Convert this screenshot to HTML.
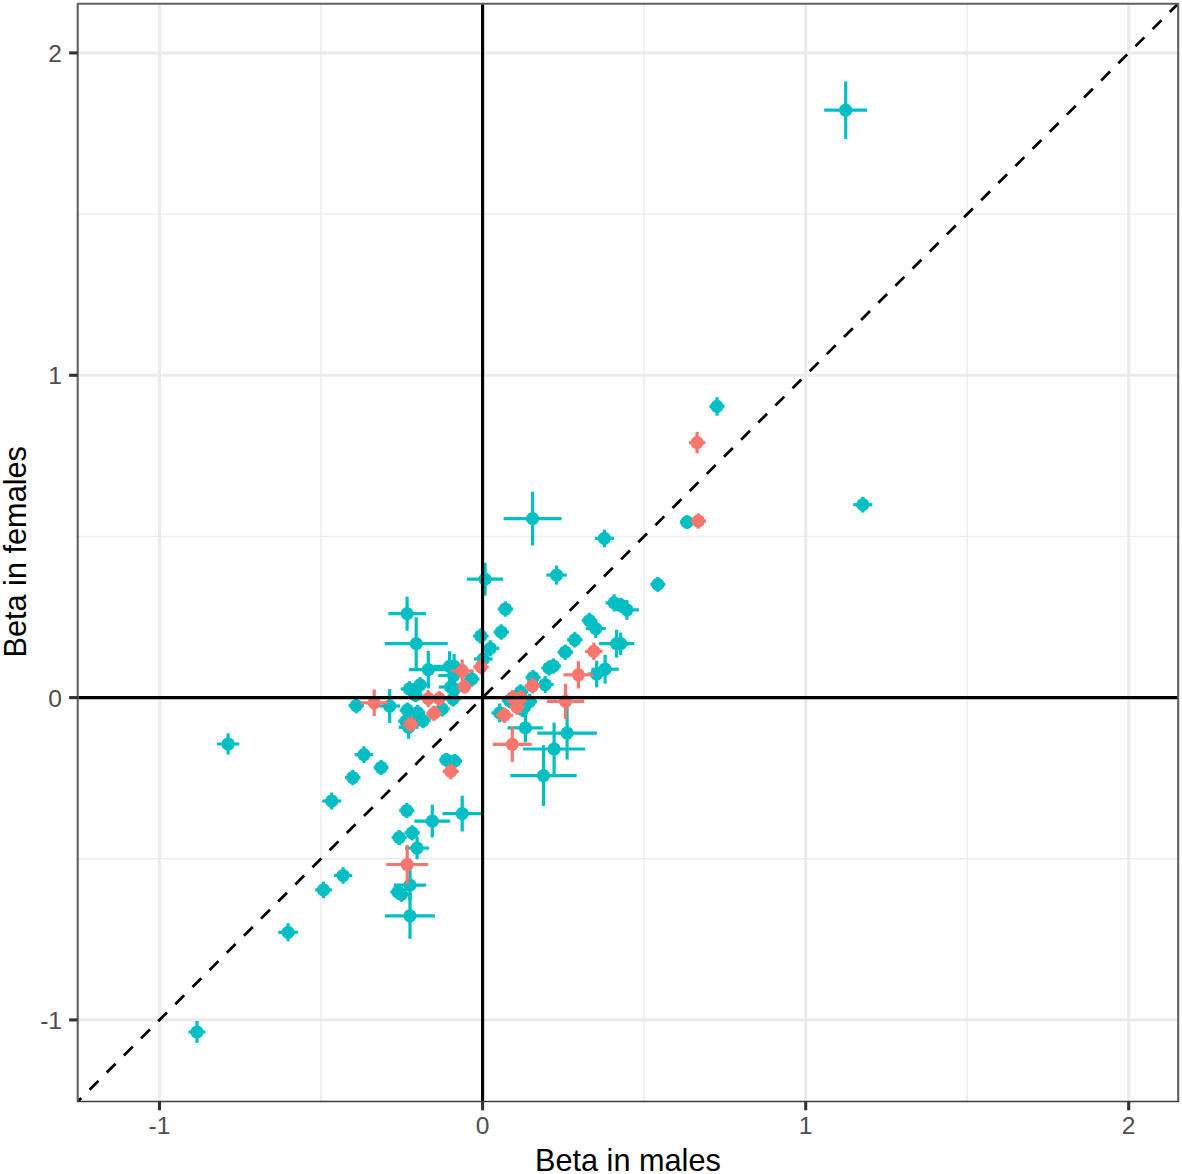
<!DOCTYPE html>
<html><head><meta charset="utf-8"><title>Beta in males vs Beta in females</title>
<style>
html,body{margin:0;padding:0;background:#fff}
svg{display:block}
text{font-family:"Liberation Sans",sans-serif}
</style></head><body>
<svg width="1182" height="1174" viewBox="0 0 1182 1174">
<rect width="1182" height="1174" fill="#fff"/>
<defs><clipPath id="pc"><rect x="77.7" y="3.8" width="1100.5" height="1097.7"/></clipPath></defs>

<g stroke="#EBEBEB" fill="none" clip-path="url(#pc)">
<line x1="321.0" y1="3.75" x2="321.0" y2="1101.47" stroke-width="1.4"/>
<line x1="77.72" y1="858.8" x2="1178.18" y2="858.8" stroke-width="1.4"/>
<line x1="644.1" y1="3.75" x2="644.1" y2="1101.47" stroke-width="1.4"/>
<line x1="77.72" y1="536.4" x2="1178.18" y2="536.4" stroke-width="1.4"/>
<line x1="967.2" y1="3.75" x2="967.2" y2="1101.47" stroke-width="1.4"/>
<line x1="77.72" y1="214.1" x2="1178.18" y2="214.1" stroke-width="1.4"/>
<line x1="159.5" y1="3.75" x2="159.5" y2="1101.47" stroke-width="3.1"/>
<line x1="77.72" y1="1019.9" x2="1178.18" y2="1019.9" stroke-width="3.1"/>
<line x1="482.6" y1="3.75" x2="482.6" y2="1101.47" stroke-width="3.1"/>
<line x1="77.72" y1="697.6" x2="1178.18" y2="697.6" stroke-width="3.1"/>
<line x1="805.7" y1="3.75" x2="805.7" y2="1101.47" stroke-width="3.1"/>
<line x1="77.72" y1="375.3" x2="1178.18" y2="375.3" stroke-width="3.1"/>
<line x1="1128.7" y1="3.75" x2="1128.7" y2="1101.47" stroke-width="3.1"/>
<line x1="77.72" y1="52.9" x2="1178.18" y2="52.9" stroke-width="3.1"/>
</g>
<g clip-path="url(#pc)" stroke-width="3.2">
<g stroke="#00BFC4" fill="#00BFC4">
<line x1="824.2" y1="110.2" x2="867.2" y2="110.2"/><line x1="845.7" y1="81.5" x2="845.7" y2="138.9"/><circle cx="845.7" cy="110.2" r="6.6" stroke="none"/>
<line x1="216.9" y1="744.0" x2="239.3" y2="744.0"/><line x1="228.1" y1="733.5" x2="228.1" y2="754.5"/><circle cx="228.1" cy="744.0" r="6.6" stroke="none"/>
<line x1="322.2" y1="801.0" x2="341.2" y2="801.0"/><line x1="331.7" y1="792.5" x2="331.7" y2="809.5"/><circle cx="331.7" cy="801.0" r="6.6" stroke="none"/>
<line x1="345.1" y1="777.5" x2="360.5" y2="777.5"/><line x1="352.8" y1="769.8" x2="352.8" y2="785.2"/><circle cx="352.8" cy="777.5" r="6.6" stroke="none"/>
<line x1="333.9" y1="875.5" x2="352.3" y2="875.5"/><line x1="343.1" y1="867.2" x2="343.1" y2="883.8"/><circle cx="343.1" cy="875.5" r="6.6" stroke="none"/>
<line x1="315.2" y1="889.9" x2="331.8" y2="889.9"/><line x1="323.5" y1="881.6" x2="323.5" y2="898.2"/><circle cx="323.5" cy="889.9" r="6.6" stroke="none"/>
<line x1="188.5" y1="1032.0" x2="205.5" y2="1032.0"/><line x1="197.0" y1="1021.0" x2="197.0" y2="1043.0"/><circle cx="197.0" cy="1032.0" r="6.6" stroke="none"/>
<line x1="278.3" y1="932.3" x2="297.9" y2="932.3"/><line x1="288.1" y1="923.3" x2="288.1" y2="941.3"/><circle cx="288.1" cy="932.3" r="6.6" stroke="none"/>
<line x1="709.5" y1="406.4" x2="724.5" y2="406.4"/><line x1="717.0" y1="397.1" x2="717.0" y2="415.7"/><circle cx="717.0" cy="406.4" r="6.6" stroke="none"/>
<line x1="680.0" y1="522.1" x2="694.0" y2="522.1"/><line x1="687.0" y1="515.1" x2="687.0" y2="529.1"/><circle cx="687.0" cy="522.1" r="6.6" stroke="none"/>
<line x1="853.2" y1="504.7" x2="872.4" y2="504.7"/><line x1="862.8" y1="496.8" x2="862.8" y2="512.6"/><circle cx="862.8" cy="504.7" r="6.6" stroke="none"/>
<line x1="650.4" y1="584.4" x2="665.2" y2="584.4"/><line x1="657.8" y1="577.0" x2="657.8" y2="591.8"/><circle cx="657.8" cy="584.4" r="6.6" stroke="none"/>
<line x1="503.6" y1="518.6" x2="561.6" y2="518.6"/><line x1="532.6" y1="491.8" x2="532.6" y2="545.4"/><circle cx="532.6" cy="518.6" r="6.6" stroke="none"/>
<line x1="594.8" y1="538.4" x2="614.0" y2="538.4"/><line x1="604.4" y1="529.6" x2="604.4" y2="547.2"/><circle cx="604.4" cy="538.4" r="6.6" stroke="none"/>
<line x1="546.4" y1="575.1" x2="566.8" y2="575.1"/><line x1="556.6" y1="565.6" x2="556.6" y2="584.6"/><circle cx="556.6" cy="575.1" r="6.6" stroke="none"/>
<line x1="467.0" y1="579.2" x2="503.2" y2="579.2"/><line x1="485.1" y1="562.8" x2="485.1" y2="595.6"/><circle cx="485.1" cy="579.2" r="6.6" stroke="none"/>
<line x1="497.7" y1="609.0" x2="513.1" y2="609.0"/><line x1="505.4" y1="601.3" x2="505.4" y2="616.7"/><circle cx="505.4" cy="609.0" r="6.6" stroke="none"/>
<line x1="388.3" y1="613.7" x2="425.9" y2="613.7"/><line x1="407.1" y1="596.6" x2="407.1" y2="630.8"/><circle cx="407.1" cy="613.7" r="6.6" stroke="none"/>
<line x1="384.7" y1="643.6" x2="447.7" y2="643.6"/><line x1="416.2" y1="617.2" x2="416.2" y2="670.0"/><circle cx="416.2" cy="643.6" r="6.6" stroke="none"/>
<line x1="408.8" y1="669.7" x2="447.8" y2="669.7"/><line x1="428.3" y1="650.9" x2="428.3" y2="688.5"/><circle cx="428.3" cy="669.7" r="6.6" stroke="none"/>
<line x1="473.1" y1="636.0" x2="488.5" y2="636.0"/><line x1="480.8" y1="628.3" x2="480.8" y2="643.7"/><circle cx="480.8" cy="636.0" r="6.6" stroke="none"/>
<line x1="493.5" y1="632.0" x2="508.9" y2="632.0"/><line x1="501.2" y1="624.3" x2="501.2" y2="639.7"/><circle cx="501.2" cy="632.0" r="6.6" stroke="none"/>
<line x1="481.4" y1="648.3" x2="499.2" y2="648.3"/><line x1="490.3" y1="640.2" x2="490.3" y2="656.4"/><circle cx="490.3" cy="648.3" r="6.6" stroke="none"/>
<line x1="473.9" y1="659.0" x2="492.7" y2="659.0"/><line x1="483.3" y1="652.0" x2="483.3" y2="666.0"/><circle cx="483.3" cy="659.0" r="6.6" stroke="none"/>
<line x1="433.6" y1="666.4" x2="465.6" y2="666.4"/><line x1="449.6" y1="651.3" x2="449.6" y2="681.5"/><circle cx="449.6" cy="666.4" r="6.6" stroke="none"/>
<line x1="446.1" y1="666.4" x2="462.1" y2="666.4"/><line x1="454.1" y1="654.0" x2="454.1" y2="678.8"/><circle cx="454.1" cy="666.4" r="6.6" stroke="none"/>
<line x1="464.1" y1="679.0" x2="479.5" y2="679.0"/><line x1="471.8" y1="671.3" x2="471.8" y2="686.7"/><circle cx="471.8" cy="679.0" r="6.6" stroke="none"/>
<line x1="438.3" y1="675.5" x2="468.9" y2="675.5"/><line x1="453.6" y1="668.5" x2="453.6" y2="682.5"/><circle cx="453.6" cy="675.5" r="6.6" stroke="none"/>
<line x1="438.9" y1="687.0" x2="462.5" y2="687.0"/><line x1="450.7" y1="680.0" x2="450.7" y2="694.0"/><circle cx="450.7" cy="687.0" r="6.6" stroke="none"/>
<line x1="447.5" y1="689.0" x2="461.5" y2="689.0"/><line x1="454.5" y1="682.0" x2="454.5" y2="696.0"/><circle cx="454.5" cy="689.0" r="6.6" stroke="none"/>
<line x1="445.3" y1="698.8" x2="460.7" y2="698.8"/><line x1="453.0" y1="691.1" x2="453.0" y2="706.5"/><circle cx="453.0" cy="698.8" r="6.6" stroke="none"/>
<line x1="412.4" y1="684.8" x2="427.8" y2="684.8"/><line x1="420.1" y1="677.1" x2="420.1" y2="692.5"/><circle cx="420.1" cy="684.8" r="6.6" stroke="none"/>
<line x1="400.7" y1="688.9" x2="418.1" y2="688.9"/><line x1="409.4" y1="681.2" x2="409.4" y2="696.6"/><circle cx="409.4" cy="688.9" r="6.6" stroke="none"/>
<line x1="408.5" y1="695.0" x2="422.5" y2="695.0"/><line x1="415.5" y1="688.0" x2="415.5" y2="702.0"/><circle cx="415.5" cy="695.0" r="6.6" stroke="none"/>
<line x1="434.4" y1="708.9" x2="449.8" y2="708.9"/><line x1="442.1" y1="701.2" x2="442.1" y2="716.6"/><circle cx="442.1" cy="708.9" r="6.6" stroke="none"/>
<line x1="348.5" y1="705.6" x2="363.9" y2="705.6"/><line x1="356.2" y1="697.9" x2="356.2" y2="713.3"/><circle cx="356.2" cy="705.6" r="6.6" stroke="none"/>
<line x1="379.4" y1="706.0" x2="400.0" y2="706.0"/><line x1="389.7" y1="689.1" x2="389.7" y2="722.9"/><circle cx="389.7" cy="706.0" r="6.6" stroke="none"/>
<line x1="398.6" y1="727.3" x2="418.6" y2="727.3"/><line x1="408.6" y1="715.8" x2="408.6" y2="738.8"/><circle cx="408.6" cy="727.3" r="6.6" stroke="none"/>
<line x1="399.7" y1="710.2" x2="415.1" y2="710.2"/><line x1="407.4" y1="702.5" x2="407.4" y2="717.9"/><circle cx="407.4" cy="710.2" r="6.6" stroke="none"/>
<line x1="398.2" y1="721.1" x2="413.4" y2="721.1"/><line x1="405.8" y1="713.5" x2="405.8" y2="728.7"/><circle cx="405.8" cy="721.1" r="6.6" stroke="none"/>
<line x1="409.8" y1="712.5" x2="425.2" y2="712.5"/><line x1="417.5" y1="704.8" x2="417.5" y2="720.2"/><circle cx="417.5" cy="712.5" r="6.6" stroke="none"/>
<line x1="415.3" y1="720.5" x2="430.7" y2="720.5"/><line x1="423.0" y1="712.8" x2="423.0" y2="728.2"/><circle cx="423.0" cy="720.5" r="6.6" stroke="none"/>
<line x1="407.5" y1="721.0" x2="421.5" y2="721.0"/><line x1="414.5" y1="714.0" x2="414.5" y2="728.0"/><circle cx="414.5" cy="721.0" r="6.6" stroke="none"/>
<line x1="354.6" y1="754.7" x2="373.2" y2="754.7"/><line x1="363.9" y1="746.3" x2="363.9" y2="763.1"/><circle cx="363.9" cy="754.7" r="6.6" stroke="none"/>
<line x1="373.6" y1="767.5" x2="388.6" y2="767.5"/><line x1="381.1" y1="760.0" x2="381.1" y2="775.0"/><circle cx="381.1" cy="767.5" r="6.6" stroke="none"/>
<line x1="439.3" y1="759.9" x2="453.3" y2="759.9"/><line x1="446.3" y1="752.9" x2="446.3" y2="766.9"/><circle cx="446.3" cy="759.9" r="6.6" stroke="none"/>
<line x1="447.1" y1="761.1" x2="462.1" y2="761.1"/><line x1="454.6" y1="754.1" x2="454.6" y2="768.1"/><circle cx="454.6" cy="761.1" r="6.6" stroke="none"/>
<line x1="399.2" y1="810.5" x2="414.4" y2="810.5"/><line x1="406.8" y1="802.9" x2="406.8" y2="818.1"/><circle cx="406.8" cy="810.5" r="6.6" stroke="none"/>
<line x1="414.4" y1="821.1" x2="450.2" y2="821.1"/><line x1="432.3" y1="804.7" x2="432.3" y2="837.5"/><circle cx="432.3" cy="821.1" r="6.6" stroke="none"/>
<line x1="442.5" y1="813.6" x2="481.9" y2="813.6"/><line x1="462.2" y1="795.7" x2="462.2" y2="831.5"/><circle cx="462.2" cy="813.6" r="6.6" stroke="none"/>
<line x1="404.6" y1="832.8" x2="419.8" y2="832.8"/><line x1="412.2" y1="825.2" x2="412.2" y2="840.4"/><circle cx="412.2" cy="832.8" r="6.6" stroke="none"/>
<line x1="391.6" y1="837.5" x2="406.8" y2="837.5"/><line x1="399.2" y1="829.9" x2="399.2" y2="845.1"/><circle cx="399.2" cy="837.5" r="6.6" stroke="none"/>
<line x1="405.1" y1="848.1" x2="429.1" y2="848.1"/><line x1="417.1" y1="836.9" x2="417.1" y2="859.3"/><circle cx="417.1" cy="848.1" r="6.6" stroke="none"/>
<line x1="393.9" y1="885.1" x2="426.1" y2="885.1"/><line x1="410.0" y1="869.8" x2="410.0" y2="900.4"/><circle cx="410.0" cy="885.1" r="6.6" stroke="none"/>
<line x1="385.0" y1="915.8" x2="435.0" y2="915.8"/><line x1="410.0" y1="892.8" x2="410.0" y2="938.8"/><circle cx="410.0" cy="915.8" r="6.6" stroke="none"/>
<line x1="390.4" y1="892.0" x2="405.6" y2="892.0"/><line x1="398.0" y1="884.4" x2="398.0" y2="899.6"/><circle cx="398.0" cy="892.0" r="6.6" stroke="none"/>
<line x1="393.9" y1="894.3" x2="409.1" y2="894.3"/><line x1="401.5" y1="886.7" x2="401.5" y2="901.9"/><circle cx="401.5" cy="894.3" r="6.6" stroke="none"/>
<line x1="605.6" y1="602.8" x2="622.6" y2="602.8"/><line x1="614.1" y1="594.3" x2="614.1" y2="611.3"/><circle cx="614.1" cy="602.8" r="6.6" stroke="none"/>
<line x1="613.5" y1="605.4" x2="628.7" y2="605.4"/><line x1="621.1" y1="597.8" x2="621.1" y2="613.0"/><circle cx="621.1" cy="605.4" r="6.6" stroke="none"/>
<line x1="614.9" y1="609.8" x2="638.9" y2="609.8"/><line x1="626.9" y1="599.8" x2="626.9" y2="619.8"/><circle cx="626.9" cy="609.8" r="6.6" stroke="none"/>
<line x1="581.8" y1="620.5" x2="597.0" y2="620.5"/><line x1="589.4" y1="612.9" x2="589.4" y2="628.1"/><circle cx="589.4" cy="620.5" r="6.6" stroke="none"/>
<line x1="585.8" y1="628.6" x2="605.8" y2="628.6"/><line x1="595.8" y1="619.1" x2="595.8" y2="638.1"/><circle cx="595.8" cy="628.6" r="6.6" stroke="none"/>
<line x1="567.1" y1="639.8" x2="582.5" y2="639.8"/><line x1="574.8" y1="632.1" x2="574.8" y2="647.5"/><circle cx="574.8" cy="639.8" r="6.6" stroke="none"/>
<line x1="557.6" y1="652.2" x2="573.0" y2="652.2"/><line x1="565.3" y1="644.5" x2="565.3" y2="659.9"/><circle cx="565.3" cy="652.2" r="6.6" stroke="none"/>
<line x1="541.4" y1="668.0" x2="556.6" y2="668.0"/><line x1="549.0" y1="660.4" x2="549.0" y2="675.6"/><circle cx="549.0" cy="668.0" r="6.6" stroke="none"/>
<line x1="545.8" y1="666.0" x2="561.0" y2="666.0"/><line x1="553.4" y1="658.4" x2="553.4" y2="673.6"/><circle cx="553.4" cy="666.0" r="6.6" stroke="none"/>
<line x1="525.4" y1="677.5" x2="540.6" y2="677.5"/><line x1="533.0" y1="669.9" x2="533.0" y2="685.1"/><circle cx="533.0" cy="677.5" r="6.6" stroke="none"/>
<line x1="536.7" y1="684.5" x2="553.7" y2="684.5"/><line x1="545.2" y1="676.0" x2="545.2" y2="693.0"/><circle cx="545.2" cy="684.5" r="6.6" stroke="none"/>
<line x1="598.9" y1="643.7" x2="634.3" y2="643.7"/><line x1="616.6" y1="629.8" x2="616.6" y2="657.6"/><circle cx="616.6" cy="643.7" r="6.6" stroke="none"/>
<line x1="610.7" y1="643.7" x2="630.7" y2="643.7"/><line x1="620.7" y1="632.5" x2="620.7" y2="654.9"/><circle cx="620.7" cy="643.7" r="6.6" stroke="none"/>
<line x1="587.7" y1="674.0" x2="605.7" y2="674.0"/><line x1="596.7" y1="660.6" x2="596.7" y2="687.4"/><circle cx="596.7" cy="674.0" r="6.6" stroke="none"/>
<line x1="591.4" y1="669.2" x2="618.8" y2="669.2"/><line x1="605.1" y1="654.8" x2="605.1" y2="683.6"/><circle cx="605.1" cy="669.2" r="6.6" stroke="none"/>
<line x1="513.1" y1="691.9" x2="528.3" y2="691.9"/><line x1="520.7" y1="684.3" x2="520.7" y2="699.5"/><circle cx="520.7" cy="691.9" r="6.6" stroke="none"/>
<line x1="501.9" y1="700.5" x2="517.1" y2="700.5"/><line x1="509.5" y1="692.9" x2="509.5" y2="708.1"/><circle cx="509.5" cy="700.5" r="6.6" stroke="none"/>
<line x1="521.9" y1="701.5" x2="537.1" y2="701.5"/><line x1="529.5" y1="693.9" x2="529.5" y2="709.1"/><circle cx="529.5" cy="701.5" r="6.6" stroke="none"/>
<line x1="515.1" y1="709.5" x2="530.3" y2="709.5"/><line x1="522.7" y1="701.9" x2="522.7" y2="717.1"/><circle cx="522.7" cy="709.5" r="6.6" stroke="none"/>
<line x1="491.4" y1="712.9" x2="508.0" y2="712.9"/><line x1="499.7" y1="703.5" x2="499.7" y2="722.3"/><circle cx="499.7" cy="712.9" r="6.6" stroke="none"/>
<line x1="507.5" y1="727.9" x2="543.3" y2="727.9"/><line x1="525.4" y1="713.4" x2="525.4" y2="742.4"/><circle cx="525.4" cy="727.9" r="6.6" stroke="none"/>
<line x1="537.3" y1="733.1" x2="596.9" y2="733.1"/><line x1="567.1" y1="706.6" x2="567.1" y2="759.6"/><circle cx="567.1" cy="733.1" r="6.6" stroke="none"/>
<line x1="523.1" y1="749.0" x2="585.1" y2="749.0"/><line x1="554.1" y1="722.7" x2="554.1" y2="775.3"/><circle cx="554.1" cy="749.0" r="6.6" stroke="none"/>
<line x1="510.3" y1="775.6" x2="576.7" y2="775.6"/><line x1="543.5" y1="745.1" x2="543.5" y2="806.1"/><circle cx="543.5" cy="775.6" r="6.6" stroke="none"/>
</g>
<g stroke="#F8766D" fill="#F8766D">
<line x1="689.0" y1="442.6" x2="705.2" y2="442.6"/><line x1="697.1" y1="431.9" x2="697.1" y2="453.3"/><circle cx="697.1" cy="442.6" r="6.6" stroke="none"/>
<line x1="690.6" y1="521.0" x2="706.0" y2="521.0"/><line x1="698.3" y1="513.3" x2="698.3" y2="528.7"/><circle cx="698.3" cy="521.0" r="6.6" stroke="none"/>
<line x1="450.7" y1="670.9" x2="473.7" y2="670.9"/><line x1="462.2" y1="659.6" x2="462.2" y2="682.2"/><circle cx="462.2" cy="670.9" r="6.6" stroke="none"/>
<line x1="473.3" y1="666.8" x2="488.7" y2="666.8"/><line x1="481.0" y1="659.1" x2="481.0" y2="674.5"/><circle cx="481.0" cy="666.8" r="6.6" stroke="none"/>
<line x1="457.6" y1="686.6" x2="471.4" y2="686.6"/><line x1="464.5" y1="679.7" x2="464.5" y2="693.5"/><circle cx="464.5" cy="686.6" r="6.6" stroke="none"/>
<line x1="419.6" y1="698.6" x2="437.0" y2="698.6"/><line x1="428.3" y1="689.9" x2="428.3" y2="707.3"/><circle cx="428.3" cy="698.6" r="6.6" stroke="none"/>
<line x1="431.7" y1="698.6" x2="446.9" y2="698.6"/><line x1="439.3" y1="691.0" x2="439.3" y2="706.2"/><circle cx="439.3" cy="698.6" r="6.6" stroke="none"/>
<line x1="426.3" y1="713.3" x2="441.5" y2="713.3"/><line x1="433.9" y1="705.7" x2="433.9" y2="720.9"/><circle cx="433.9" cy="713.3" r="6.6" stroke="none"/>
<line x1="403.1" y1="724.1" x2="418.3" y2="724.1"/><line x1="410.7" y1="716.5" x2="410.7" y2="731.7"/><circle cx="410.7" cy="724.1" r="6.6" stroke="none"/>
<line x1="360.6" y1="702.8" x2="387.8" y2="702.8"/><line x1="374.2" y1="689.5" x2="374.2" y2="716.1"/><circle cx="374.2" cy="702.8" r="6.6" stroke="none"/>
<line x1="442.7" y1="771.4" x2="458.7" y2="771.4"/><line x1="450.7" y1="763.4" x2="450.7" y2="779.4"/><circle cx="450.7" cy="771.4" r="6.6" stroke="none"/>
<line x1="386.2" y1="864.5" x2="428.2" y2="864.5"/><line x1="407.2" y1="845.0" x2="407.2" y2="884.0"/><circle cx="407.2" cy="864.5" r="6.6" stroke="none"/>
<line x1="524.7" y1="685.8" x2="540.1" y2="685.8"/><line x1="532.4" y1="678.1" x2="532.4" y2="693.5"/><circle cx="532.4" cy="685.8" r="6.6" stroke="none"/>
<line x1="585.1" y1="651.4" x2="602.5" y2="651.4"/><line x1="593.8" y1="642.7" x2="593.8" y2="660.1"/><circle cx="593.8" cy="651.4" r="6.6" stroke="none"/>
<line x1="563.5" y1="674.8" x2="593.3" y2="674.8"/><line x1="578.4" y1="661.1" x2="578.4" y2="688.5"/><circle cx="578.4" cy="674.8" r="6.6" stroke="none"/>
<line x1="546.9" y1="701.3" x2="584.3" y2="701.3"/><line x1="565.6" y1="683.7" x2="565.6" y2="718.9"/><circle cx="565.6" cy="701.3" r="6.6" stroke="none"/>
<line x1="505.0" y1="697.6" x2="520.2" y2="697.6"/><line x1="512.6" y1="690.0" x2="512.6" y2="705.2"/><circle cx="512.6" cy="697.6" r="6.6" stroke="none"/>
<line x1="513.3" y1="697.8" x2="528.5" y2="697.8"/><line x1="520.9" y1="690.1" x2="520.9" y2="705.5"/><circle cx="520.9" cy="697.8" r="6.6" stroke="none"/>
<line x1="509.5" y1="707.0" x2="524.7" y2="707.0"/><line x1="517.1" y1="699.4" x2="517.1" y2="714.6"/><circle cx="517.1" cy="707.0" r="6.6" stroke="none"/>
<line x1="495.7" y1="715.2" x2="513.1" y2="715.2"/><line x1="504.4" y1="707.5" x2="504.4" y2="722.9"/><circle cx="504.4" cy="715.2" r="6.6" stroke="none"/>
<line x1="492.8" y1="744.3" x2="531.8" y2="744.3"/><line x1="512.3" y1="726.7" x2="512.3" y2="761.9"/><circle cx="512.3" cy="744.3" r="6.6" stroke="none"/>
</g>
<line x1="77.72" y1="697.6" x2="1178.18" y2="697.6" stroke="#000" stroke-width="3.1"/>
<line x1="482.58" y1="3.75" x2="482.58" y2="1101.47" stroke="#000" stroke-width="3.1"/>
<line x1="77.72" y1="1101.52" x2="1178.18" y2="3.61" stroke="#000" stroke-width="2.75" stroke-dasharray="12.5 11.72" stroke-dashoffset="7.47"/>
</g>
<path d="M77.72 1101.47 L77.72 3.75 L1178.18 3.75 L1178.18 1101.47" fill="none" stroke="#606060" stroke-width="2.1" stroke-linejoin="round"/>
<line x1="76.82" y1="1101.47" x2="1179.08" y2="1101.47" stroke="#3d3d3d" stroke-width="1.6"/>
<g stroke="#333" stroke-width="3.1">
<line x1="159.5" y1="1101.47" x2="159.5" y2="1110.3"/>
<line x1="69.1" y1="1019.9" x2="77.72" y2="1019.9"/>
<line x1="482.6" y1="1101.47" x2="482.6" y2="1110.3"/>
<line x1="69.1" y1="697.6" x2="77.72" y2="697.6"/>
<line x1="805.7" y1="1101.47" x2="805.7" y2="1110.3"/>
<line x1="69.1" y1="375.3" x2="77.72" y2="375.3"/>
<line x1="1128.7" y1="1101.47" x2="1128.7" y2="1110.3"/>
<line x1="69.1" y1="52.9" x2="77.72" y2="52.9"/>
</g>
<g fill="#4D4D4D" font-size="24.6px">
<text x="159.5" y="1134.4" text-anchor="middle">-1</text>
<text x="62.0" y="1028.8" text-anchor="end">-1</text>
<text x="482.6" y="1134.4" text-anchor="middle">0</text>
<text x="62.0" y="706.5" text-anchor="end">0</text>
<text x="805.7" y="1134.4" text-anchor="middle">1</text>
<text x="62.0" y="384.2" text-anchor="end">1</text>
<text x="1128.7" y="1134.4" text-anchor="middle">2</text>
<text x="62.0" y="61.8" text-anchor="end">2</text>
</g>
<text x="627.9" y="1171" text-anchor="middle" font-size="30.7px" fill="#000">Beta in males</text>
<text transform="translate(25.6,551.8) rotate(-90)" text-anchor="middle" font-size="30.7px" fill="#000">Beta in females</text>
</svg></body></html>
